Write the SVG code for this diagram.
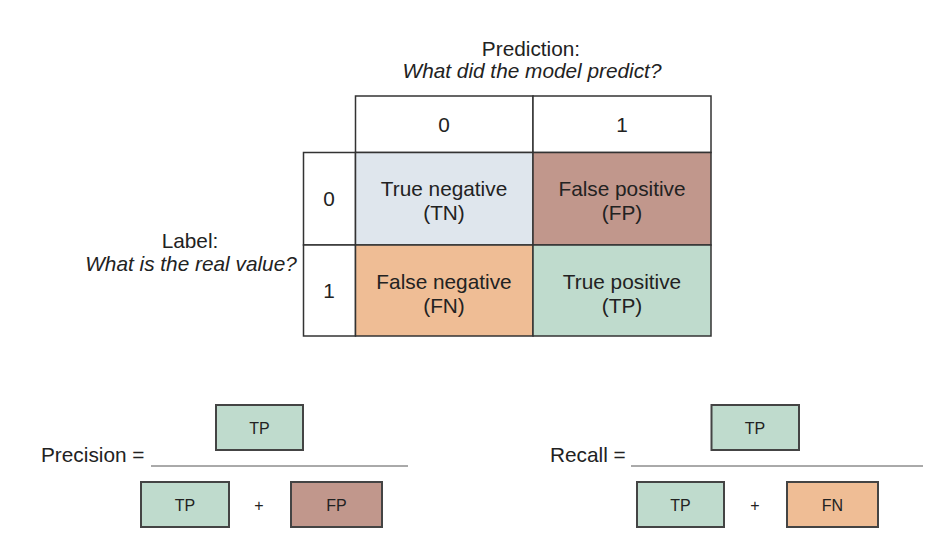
<svg xmlns="http://www.w3.org/2000/svg" width="949" height="549" viewBox="0 0 949 549">
<style>
text{font-family:"Liberation Sans",Arial,sans-serif;fill:#222;}
.t18{font-size:20.8px;text-anchor:middle;}
.it{font-style:italic;}
.cell{stroke:#333;stroke-width:1.5;}
.box{stroke:#444;stroke-width:2;}
.f15{font-size:16px;text-anchor:middle;}
.tn{fill:#dfe6ed;}
.fp{fill:#c1978c;}
.fn{fill:#efbd95;}
.tp{fill:#bfdbcd;}
.wh{fill:#fff;}
</style>
<rect width="949" height="549" fill="#fff"/>
<g id="titles">
<text class="t18" x="531" y="56">Prediction:</text>
<text class="t18 it" x="532" y="78">What did the model predict?</text>
<text class="t18" x="190" y="248">Label:</text>
<text class="t18 it" x="191" y="271">What is the real value?</text>
</g>
<g id="header-col0"><rect class="cell wh" x="355.5" y="96" width="177.5" height="56.5"/><text class="t18" x="444" y="132">0</text></g>
<g id="header-col1"><rect class="cell wh" x="533" y="96" width="178" height="56.5"/><text class="t18" x="622" y="132">1</text></g>
<g id="header-row0"><rect class="cell wh" x="303.5" y="152.5" width="52" height="92.5"/><text class="t18" x="329" y="206">0</text></g>
<g id="header-row1"><rect class="cell wh" x="303.5" y="245" width="52" height="91"/><text class="t18" x="329" y="298">1</text></g>
<g id="cell-tn"><rect class="cell tn" x="355.5" y="152.5" width="177.5" height="92.5"/><text class="t18" x="444" y="196">True negative</text><text class="t18" x="444" y="220">(TN)</text></g>
<g id="cell-fp"><rect class="cell fp" x="533" y="152.5" width="178" height="92.5"/><text class="t18" x="622" y="196">False positive</text><text class="t18" x="622" y="220">(FP)</text></g>
<g id="cell-fn"><rect class="cell fn" x="355.5" y="245" width="177.5" height="91"/><text class="t18" x="444" y="289">False negative</text><text class="t18" x="444" y="313">(FN)</text></g>
<g id="cell-tp"><rect class="cell tp" x="533" y="245" width="178" height="91"/><text class="t18" x="622" y="289">True positive</text><text class="t18" x="622" y="313">(TP)</text></g>
<g id="precision">
<text x="41" y="462" font-size="20.8">Precision =</text>
<line x1="151" y1="466" x2="408" y2="466" stroke="#555" stroke-width="1"/>
<rect class="box tp" x="216" y="405" width="87" height="45"/><text class="f15" x="259.5" y="434">TP</text>
<rect class="box tp" x="141" y="482" width="88" height="45"/><text class="f15" x="185" y="511">TP</text>
<text class="f15" x="259" y="511" font-size="15">+</text>
<rect class="box fp" x="291" y="482" width="91" height="45"/><text class="f15" x="336.5" y="511">FP</text>
</g>
<g id="recall">
<text x="550" y="462" font-size="20.8">Recall =</text>
<line x1="631" y1="466" x2="923" y2="466" stroke="#555" stroke-width="1"/>
<rect class="box tp" x="711.5" y="405" width="87.5" height="45"/><text class="f15" x="755" y="434">TP</text>
<rect class="box tp" x="637" y="482" width="87" height="45"/><text class="f15" x="680.5" y="511">TP</text>
<text class="f15" x="755" y="511" font-size="15">+</text>
<rect class="box fn" x="787" y="482" width="91" height="45"/><text class="f15" x="832.5" y="511">FN</text>
</g>
</svg>
